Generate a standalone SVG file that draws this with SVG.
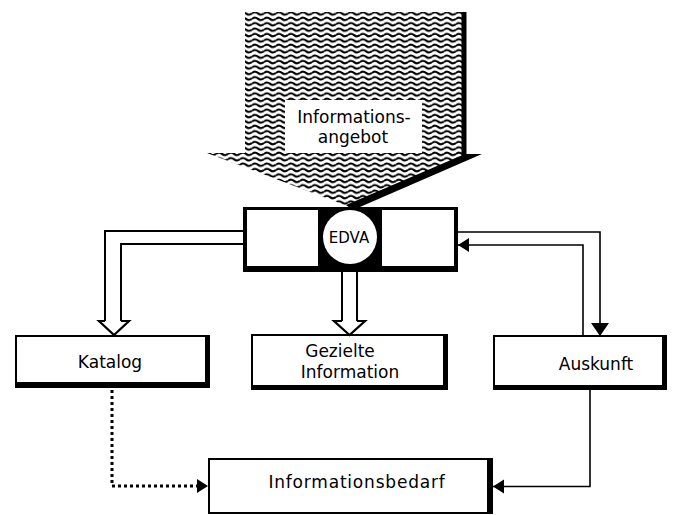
<svg xmlns="http://www.w3.org/2000/svg" width="678" height="515" viewBox="0 0 678 515">
<defs>
<pattern id="wave" width="12" height="5.4" patternUnits="userSpaceOnUse">
<path d="M0,2.7 Q3,0.4 6,2.7 T12,2.7" fill="none" stroke="#000" stroke-width="2"/>
</pattern>
<marker id="ah" markerUnits="userSpaceOnUse" markerWidth="12" markerHeight="16" refX="11" refY="7" orient="auto">
<path d="M0,0 L11,7 L0,14 z" fill="#000"/>
</marker>
<marker id="ahBig" markerUnits="userSpaceOnUse" markerWidth="14" markerHeight="20" refX="13" refY="9" orient="auto">
<path d="M0,0 L13,9 L0,18 z" fill="#000"/>
</marker>
</defs>
<style>
text{font-family:"DejaVu Sans","Liberation Sans",sans-serif;fill:#000;text-anchor:middle}
.lbl{font-size:17px}
.line{fill:none;stroke:#000;stroke-width:1.6}
.dbl{fill:none;stroke:#000;stroke-width:2}
.hollow{fill:#fff;stroke:#000;stroke-width:2.2;stroke-linejoin:miter}
</style>
<rect width="678" height="515" fill="#fff"/>

<g id="informationsangebot">
<path d="M245,12 H462 V155 H477 L350,207 L207,153 H245 Z" fill="url(#wave)"/>
<rect x="461.5" y="12" width="5" height="145" fill="#000"/>
<polygon points="465,154 482,154 353,210 346,205" fill="#000"/>
<rect x="285" y="100" width="137" height="53" fill="#fff"/>
<text class="lbl" x="354" y="123">Informations-</text>
<text class="lbl" x="353" y="143">angebot</text>
</g>

<g id="edva">
<rect x="243" y="207" width="215" height="65" fill="#000"/>
<rect x="247" y="210" width="71" height="56" fill="#fff"/>
<rect x="382" y="210" width="72" height="56" fill="#fff"/>
<circle cx="350" cy="237" r="27" fill="#fff"/>
<text x="349" y="242.5" font-size="15">EDVA</text>
</g>

<g id="katalog">
<rect x="15" y="335" width="195" height="53" fill="#000"/>
<rect x="17" y="337" width="188" height="45" fill="#fff"/>
<text class="lbl" x="110" y="368">Katalog</text>
</g>

<g id="gezielte-information">
<rect x="251" y="334" width="197" height="56" fill="#000"/>
<rect x="253" y="336" width="190" height="49" fill="#fff"/>
<text class="lbl" x="340" y="357">Gezielte</text>
<text class="lbl" x="350" y="378">Information</text>
</g>

<g id="auskunft">
<rect x="493" y="335" width="174" height="55" fill="#000"/>
<rect x="495" y="337" width="167" height="48" fill="#fff"/>
<text class="lbl" x="596" y="370">Auskunft</text>
</g>

<g id="informationsbedarf">
<rect x="208" y="458" width="285" height="56" fill="#000"/>
<rect x="210" y="460" width="277" height="52" fill="#fff"/>
<text class="lbl" x="357" y="488" letter-spacing="0.8">Informationsbedarf</text>
</g>

<g id="connectors">
<path class="dbl" d="M243,231 H105 V321"/>
<path class="dbl" d="M243,244 H121 V321"/>
<path class="hollow" d="M121,321 H129 L114,335 L99,321 H105"/>
<path class="dbl" d="M342,272 V321"/>
<path class="dbl" d="M357,272 V321"/>
<path class="hollow" d="M357,321 H365 L349.5,335 L334,321 H342"/>
<path class="line" d="M458,232 H600 V336" marker-end="url(#ahBig)"/>
<path class="line" d="M583,336 V245 H458" marker-end="url(#ah)"/>
<path class="line" d="M590,390 V486.5 H493" marker-end="url(#ah)"/>
<path d="M112,390 V486 H208" fill="none" stroke="#000" stroke-width="3" stroke-dasharray="3,3" marker-end="url(#ah)"/>
</g>
</svg>
